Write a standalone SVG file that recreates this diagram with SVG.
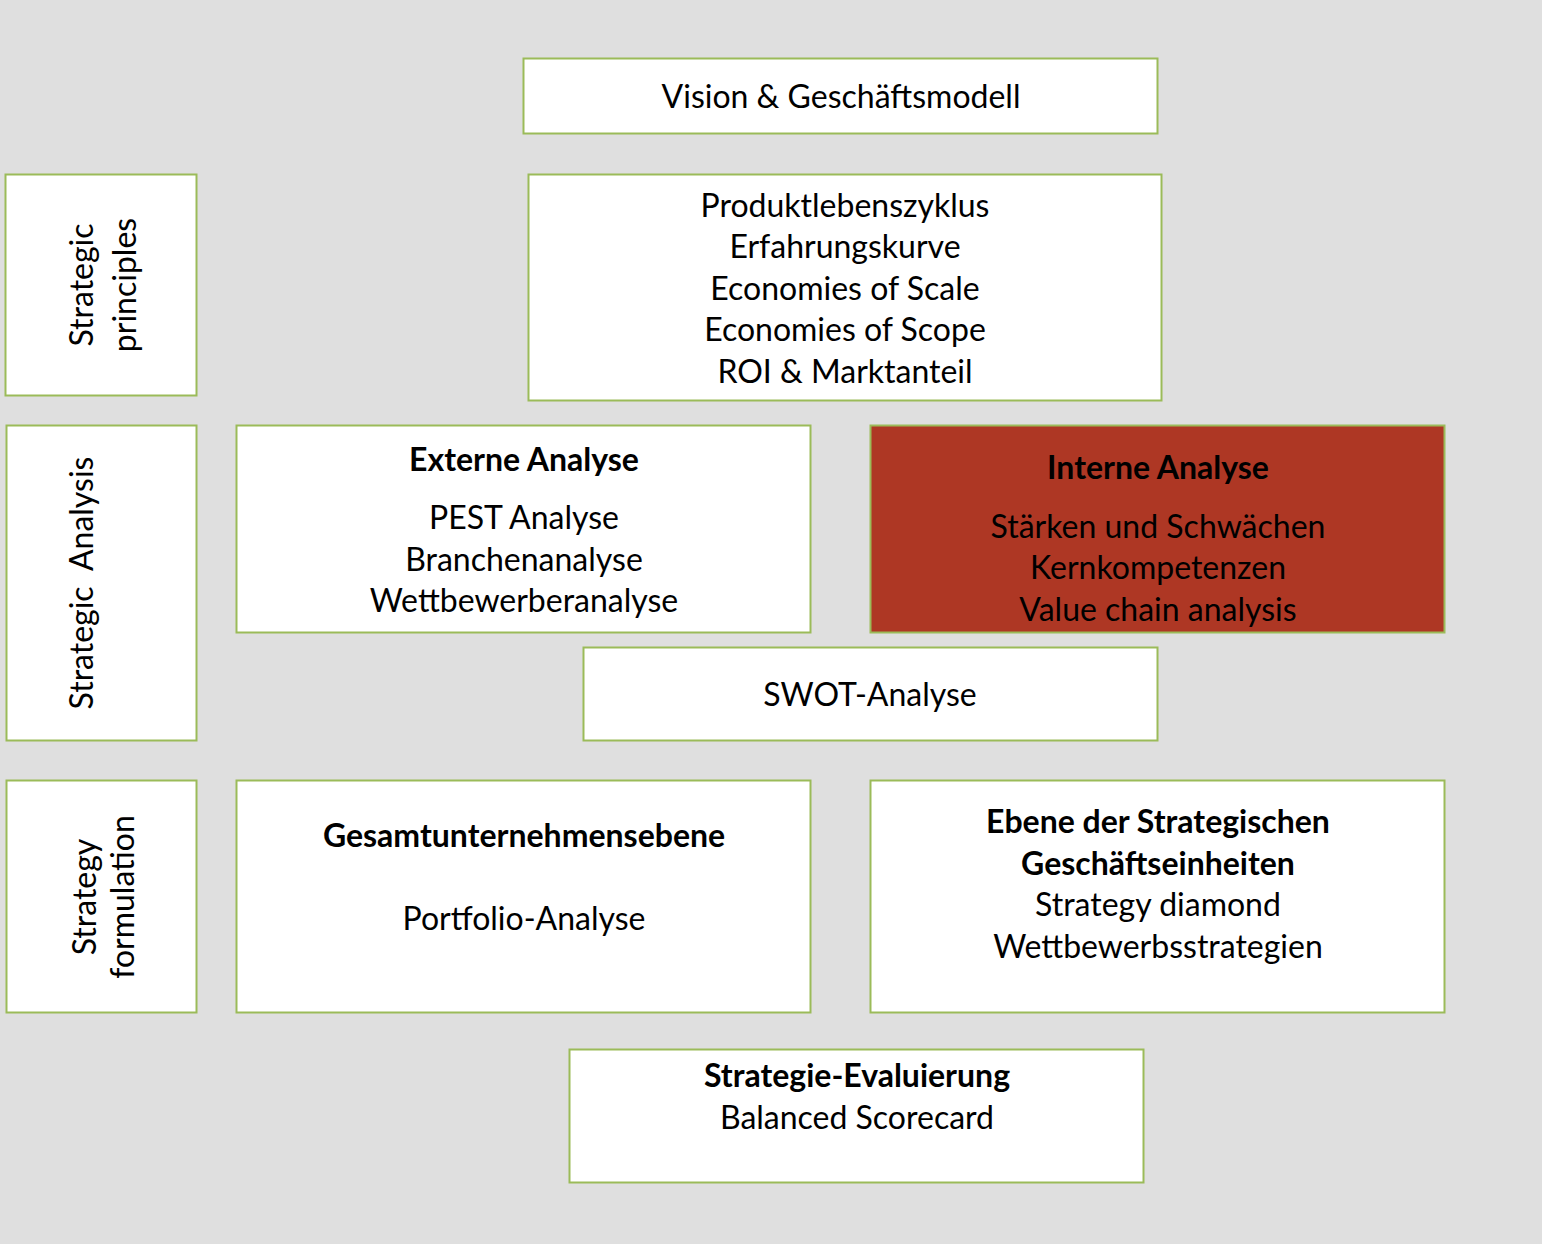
<svg xmlns="http://www.w3.org/2000/svg" width="1542" height="1244" viewBox="0 0 1542 1244">
<style>
.bx{fill:#ffffff;stroke:#9bbb59;stroke-width:2}
.red{fill:#ae3724;stroke:#9bbb59;stroke-width:2}
text{font-family:Lato,"Liberation Sans",sans-serif;font-size:32px;fill:#000;text-anchor:middle}
.b{font-weight:bold}
</style>
<rect x="0" y="0" width="1542" height="1244" fill="#dfdfdf"/>
<g id="connectors"/>
<g id="vision"><rect class="bx" x="523.5" y="58.5" width="634" height="75"/><text x="841" y="108">Vision &amp; Geschäftsmodell</text></g>
<g id="principles-label"><rect class="bx" x="5.5" y="174.5" width="191" height="221"/>
<text transform="translate(93,285) rotate(-90)">Strategic</text>
<text transform="translate(136,285) rotate(-90)">principles</text></g>
<g id="principles"><rect class="bx" x="528.5" y="174.5" width="633" height="226"/>
<text x="845" y="217">Produktlebenszyklus</text>
<text x="845" y="258">Erfahrungskurve</text>
<text x="845" y="300">Economies of Scale</text>
<text x="845" y="341">Economies of Scope</text>
<text x="845" y="383">ROI &amp; Marktanteil</text></g>
<g id="analysis-label"><rect class="bx" x="6.5" y="425.5" width="190" height="315"/>
<text transform="translate(93,583) rotate(-90)" xml:space="preserve">Strategic  Analysis</text></g>
<g id="externe"><rect class="bx" x="236.5" y="425.5" width="574" height="207"/>
<text class="b" x="524" y="471">Externe Analyse</text>
<text x="524" y="529">PEST Analyse</text>
<text x="524" y="571">Branchenanalyse</text>
<text x="524" y="612">Wettbewerberanalyse</text></g>
<g id="interne"><rect class="red" x="870.5" y="425.5" width="574" height="207"/>
<text class="b" x="1158" y="479">Interne Analyse</text>
<text x="1158" y="538">Stärken und Schwächen</text>
<text x="1158" y="579">Kernkompetenzen</text>
<text x="1158" y="621">Value chain analysis</text></g>
<g id="swot"><rect class="bx" x="583.5" y="647.5" width="574" height="93"/>
<text x="870" y="706">SWOT-Analyse</text></g>
<g id="formulation-label"><rect class="bx" x="6.5" y="780.5" width="190" height="232"/>
<text transform="translate(96,897) rotate(-90)">Strategy</text>
<text transform="translate(134,897) rotate(-90)">formulation</text></g>
<g id="gesamt"><rect class="bx" x="236.5" y="780.5" width="574" height="232"/>
<text class="b" x="524" y="847">Gesamtunternehmensebene</text>
<text x="524" y="930">Portfolio-Analyse</text></g>
<g id="ebene"><rect class="bx" x="870.5" y="780.5" width="574" height="232"/>
<text class="b" x="1158" y="833">Ebene der Strategischen</text>
<text class="b" x="1158" y="875">Geschäftseinheiten</text>
<text x="1158" y="916">Strategy diamond</text>
<text x="1158" y="958">Wettbewerbsstrategien</text></g>
<g id="evaluierung"><rect class="bx" x="569.5" y="1049.5" width="574" height="133"/>
<text class="b" x="857" y="1087">Strategie-Evaluierung</text>
<text x="857" y="1129">Balanced Scorecard</text></g>
</svg>
